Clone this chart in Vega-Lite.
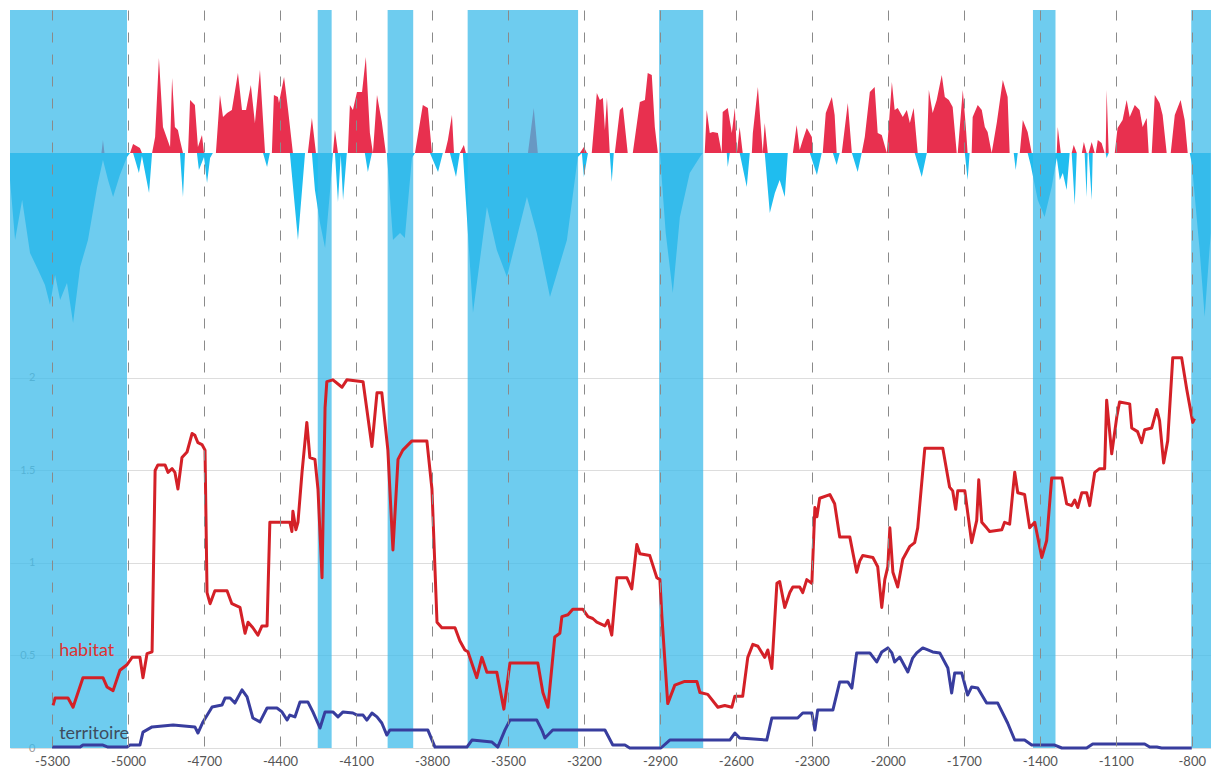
{
"$schema": "https://vega.github.io/schema/vega-lite/v6.json",
"width": 1201, "height": 738,
"autosize": {"type": "none"},
"padding": {"left": 10, "top": 10, "right": 0, "bottom": 32},
"background": "white",
"config": {"view": {"stroke": null}, "font": "Lato"},
"datasets": {
"bands": [{"a":-5466,"b":-5004},{"a":-4251,"b":-4196},{"a":-3975,"b":-3874},{"a":-3659,"b":-3223},{"a":-2903,"b":-2729},{"a":-1427,"b":-1338},{"a":-802,"b":-724}],
"labels": [{"label":"habitat","yr":-5272,"v":0.497},{"label":"territoire","yr":-5272,"v":0.047}],
"area": [
{"s":"pos","yr":-5466,"v":0},{"s":"pos","yr":-5105,"v":0},{"s":"pos","yr":-5099,"v":13},{"s":"pos","yr":-5093,"v":0},{"s":"pos","yr":-4992,"v":0},{"s":"pos","yr":-4980,"v":9},{"s":"pos","yr":-4953,"v":5},{"s":"pos","yr":-4945,"v":0},{"s":"pos","yr":-4905,"v":0},{"s":"pos","yr":-4893,"v":16},{"s":"pos","yr":-4878,"v":95},{"s":"pos","yr":-4862,"v":26},{"s":"pos","yr":-4834,"v":6},{"s":"pos","yr":-4826,"v":75},{"s":"pos","yr":-4815,"v":26},{"s":"pos","yr":-4803,"v":23},{"s":"pos","yr":-4795,"v":13},{"s":"pos","yr":-4783,"v":0},{"s":"pos","yr":-4763,"v":0},{"s":"pos","yr":-4755,"v":53},{"s":"pos","yr":-4736,"v":48},{"s":"pos","yr":-4724,"v":6},{"s":"pos","yr":-4708,"v":18},{"s":"pos","yr":-4700,"v":0},{"s":"pos","yr":-4653,"v":0},{"s":"pos","yr":-4637,"v":58},{"s":"pos","yr":-4625,"v":36},{"s":"pos","yr":-4609,"v":40},{"s":"pos","yr":-4590,"v":43},{"s":"pos","yr":-4566,"v":80},{"s":"pos","yr":-4550,"v":43},{"s":"pos","yr":-4534,"v":43},{"s":"pos","yr":-4515,"v":68},{"s":"pos","yr":-4499,"v":30},{"s":"pos","yr":-4479,"v":83},{"s":"pos","yr":-4459,"v":0},{"s":"pos","yr":-4432,"v":0},{"s":"pos","yr":-4424,"v":58},{"s":"pos","yr":-4408,"v":56},{"s":"pos","yr":-4404,"v":50},{"s":"pos","yr":-4384,"v":76},{"s":"pos","yr":-4368,"v":43},{"s":"pos","yr":-4349,"v":0},{"s":"pos","yr":-4290,"v":0},{"s":"pos","yr":-4274,"v":35},{"s":"pos","yr":-4258,"v":0},{"s":"pos","yr":-4191,"v":0},{"s":"pos","yr":-4183,"v":23},{"s":"pos","yr":-4171,"v":0},{"s":"pos","yr":-4132,"v":0},{"s":"pos","yr":-4124,"v":48},{"s":"pos","yr":-4112,"v":43},{"s":"pos","yr":-4096,"v":61},{"s":"pos","yr":-4076,"v":61},{"s":"pos","yr":-4061,"v":96},{"s":"pos","yr":-4045,"v":20},{"s":"pos","yr":-4033,"v":0},{"s":"pos","yr":-4017,"v":58},{"s":"pos","yr":-3998,"v":31},{"s":"pos","yr":-3982,"v":0},{"s":"pos","yr":-3867,"v":0},{"s":"pos","yr":-3836,"v":48},{"s":"pos","yr":-3816,"v":45},{"s":"pos","yr":-3800,"v":0},{"s":"pos","yr":-3749,"v":0},{"s":"pos","yr":-3737,"v":13},{"s":"pos","yr":-3721,"v":38},{"s":"pos","yr":-3713,"v":0},{"s":"pos","yr":-3690,"v":0},{"s":"pos","yr":-3674,"v":8},{"s":"pos","yr":-3666,"v":0},{"s":"pos","yr":-3421,"v":0},{"s":"pos","yr":-3398,"v":45},{"s":"pos","yr":-3382,"v":0},{"s":"pos","yr":-3216,"v":0},{"s":"pos","yr":-3200,"v":6},{"s":"pos","yr":-3188,"v":0},{"s":"pos","yr":-3169,"v":0},{"s":"pos","yr":-3149,"v":60},{"s":"pos","yr":-3137,"v":53},{"s":"pos","yr":-3125,"v":55},{"s":"pos","yr":-3117,"v":23},{"s":"pos","yr":-3109,"v":55},{"s":"pos","yr":-3098,"v":0},{"s":"pos","yr":-3078,"v":0},{"s":"pos","yr":-3058,"v":43},{"s":"pos","yr":-3046,"v":46},{"s":"pos","yr":-3027,"v":0},{"s":"pos","yr":-3007,"v":0},{"s":"pos","yr":-2979,"v":51},{"s":"pos","yr":-2959,"v":53},{"s":"pos","yr":-2948,"v":80},{"s":"pos","yr":-2932,"v":78},{"s":"pos","yr":-2920,"v":26},{"s":"pos","yr":-2908,"v":0},{"s":"pos","yr":-2723,"v":0},{"s":"pos","yr":-2715,"v":43},{"s":"pos","yr":-2703,"v":20},{"s":"pos","yr":-2691,"v":21},{"s":"pos","yr":-2671,"v":20},{"s":"pos","yr":-2656,"v":0},{"s":"pos","yr":-2652,"v":41},{"s":"pos","yr":-2632,"v":45},{"s":"pos","yr":-2616,"v":20},{"s":"pos","yr":-2604,"v":45},{"s":"pos","yr":-2596,"v":0},{"s":"pos","yr":-2585,"v":26},{"s":"pos","yr":-2573,"v":0},{"s":"pos","yr":-2537,"v":0},{"s":"pos","yr":-2533,"v":20},{"s":"pos","yr":-2513,"v":66},{"s":"pos","yr":-2494,"v":0},{"s":"pos","yr":-2486,"v":30},{"s":"pos","yr":-2474,"v":0},{"s":"pos","yr":-2375,"v":0},{"s":"pos","yr":-2360,"v":28},{"s":"pos","yr":-2348,"v":3},{"s":"pos","yr":-2336,"v":13},{"s":"pos","yr":-2320,"v":25},{"s":"pos","yr":-2300,"v":16},{"s":"pos","yr":-2296,"v":0},{"s":"pos","yr":-2257,"v":0},{"s":"pos","yr":-2245,"v":40},{"s":"pos","yr":-2221,"v":56},{"s":"pos","yr":-2210,"v":38},{"s":"pos","yr":-2202,"v":0},{"s":"pos","yr":-2182,"v":0},{"s":"pos","yr":-2158,"v":50},{"s":"pos","yr":-2142,"v":0},{"s":"pos","yr":-2103,"v":0},{"s":"pos","yr":-2091,"v":16},{"s":"pos","yr":-2071,"v":61},{"s":"pos","yr":-2052,"v":66},{"s":"pos","yr":-2040,"v":20},{"s":"pos","yr":-2024,"v":18},{"s":"pos","yr":-2004,"v":0},{"s":"pos","yr":-1984,"v":71},{"s":"pos","yr":-1973,"v":43},{"s":"pos","yr":-1961,"v":45},{"s":"pos","yr":-1941,"v":36},{"s":"pos","yr":-1925,"v":43},{"s":"pos","yr":-1913,"v":30},{"s":"pos","yr":-1898,"v":45},{"s":"pos","yr":-1882,"v":0},{"s":"pos","yr":-1846,"v":0},{"s":"pos","yr":-1838,"v":63},{"s":"pos","yr":-1823,"v":40},{"s":"pos","yr":-1807,"v":53},{"s":"pos","yr":-1787,"v":78},{"s":"pos","yr":-1775,"v":56},{"s":"pos","yr":-1759,"v":53},{"s":"pos","yr":-1744,"v":46},{"s":"pos","yr":-1728,"v":0},{"s":"pos","yr":-1724,"v":0},{"s":"pos","yr":-1704,"v":63},{"s":"pos","yr":-1692,"v":26},{"s":"pos","yr":-1685,"v":0},{"s":"pos","yr":-1669,"v":0},{"s":"pos","yr":-1665,"v":36},{"s":"pos","yr":-1645,"v":48},{"s":"pos","yr":-1629,"v":43},{"s":"pos","yr":-1617,"v":26},{"s":"pos","yr":-1606,"v":21},{"s":"pos","yr":-1590,"v":0},{"s":"pos","yr":-1570,"v":30},{"s":"pos","yr":-1546,"v":73},{"s":"pos","yr":-1527,"v":56},{"s":"pos","yr":-1519,"v":0},{"s":"pos","yr":-1479,"v":0},{"s":"pos","yr":-1467,"v":33},{"s":"pos","yr":-1448,"v":21},{"s":"pos","yr":-1432,"v":0},{"s":"pos","yr":-1333,"v":0},{"s":"pos","yr":-1329,"v":26},{"s":"pos","yr":-1317,"v":0},{"s":"pos","yr":-1274,"v":0},{"s":"pos","yr":-1266,"v":8},{"s":"pos","yr":-1254,"v":0},{"s":"pos","yr":-1234,"v":0},{"s":"pos","yr":-1226,"v":11},{"s":"pos","yr":-1215,"v":0},{"s":"pos","yr":-1207,"v":0},{"s":"pos","yr":-1195,"v":11},{"s":"pos","yr":-1183,"v":0},{"s":"pos","yr":-1179,"v":0},{"s":"pos","yr":-1171,"v":13},{"s":"pos","yr":-1156,"v":10},{"s":"pos","yr":-1144,"v":0},{"s":"pos","yr":-1140,"v":0},{"s":"pos","yr":-1136,"v":63},{"s":"pos","yr":-1128,"v":0},{"s":"pos","yr":-1104,"v":0},{"s":"pos","yr":-1093,"v":25},{"s":"pos","yr":-1073,"v":33},{"s":"pos","yr":-1057,"v":53},{"s":"pos","yr":-1045,"v":36},{"s":"pos","yr":-1025,"v":48},{"s":"pos","yr":-1006,"v":43},{"s":"pos","yr":-994,"v":26},{"s":"pos","yr":-978,"v":35},{"s":"pos","yr":-970,"v":0},{"s":"pos","yr":-958,"v":0},{"s":"pos","yr":-946,"v":58},{"s":"pos","yr":-927,"v":50},{"s":"pos","yr":-915,"v":38},{"s":"pos","yr":-899,"v":0},{"s":"pos","yr":-883,"v":0},{"s":"pos","yr":-867,"v":38},{"s":"pos","yr":-844,"v":53},{"s":"pos","yr":-828,"v":33},{"s":"pos","yr":-816,"v":0},{"s":"pos","yr":-725,"v":0},
{"s":"neg","yr":-5466,"v":-27},{"s":"neg","yr":-5446,"v":-87},{"s":"neg","yr":-5418,"v":-47},{"s":"neg","yr":-5387,"v":-100},{"s":"neg","yr":-5355,"v":-117},{"s":"neg","yr":-5328,"v":-132},{"s":"neg","yr":-5308,"v":-152},{"s":"neg","yr":-5288,"v":-122},{"s":"neg","yr":-5268,"v":-147},{"s":"neg","yr":-5241,"v":-130},{"s":"neg","yr":-5217,"v":-170},{"s":"neg","yr":-5189,"v":-114},{"s":"neg","yr":-5158,"v":-87},{"s":"neg","yr":-5122,"v":-34},{"s":"neg","yr":-5099,"v":-7},{"s":"neg","yr":-5079,"v":-27},{"s":"neg","yr":-5059,"v":-44},{"s":"neg","yr":-5032,"v":-22},{"s":"neg","yr":-5004,"v":-4},{"s":"neg","yr":-4992,"v":0},{"s":"neg","yr":-4980,"v":0},{"s":"neg","yr":-4957,"v":-20},{"s":"neg","yr":-4945,"v":-3},{"s":"neg","yr":-4917,"v":-40},{"s":"neg","yr":-4905,"v":0},{"s":"neg","yr":-4795,"v":0},{"s":"neg","yr":-4783,"v":-44},{"s":"neg","yr":-4775,"v":0},{"s":"neg","yr":-4728,"v":0},{"s":"neg","yr":-4720,"v":-17},{"s":"neg","yr":-4700,"v":-4},{"s":"neg","yr":-4688,"v":-30},{"s":"neg","yr":-4676,"v":-5},{"s":"neg","yr":-4665,"v":0},{"s":"neg","yr":-4467,"v":0},{"s":"neg","yr":-4451,"v":-14},{"s":"neg","yr":-4440,"v":0},{"s":"neg","yr":-4361,"v":0},{"s":"neg","yr":-4329,"v":-87},{"s":"neg","yr":-4301,"v":0},{"s":"neg","yr":-4274,"v":0},{"s":"neg","yr":-4262,"v":-37},{"s":"neg","yr":-4242,"v":-70},{"s":"neg","yr":-4222,"v":-95},{"s":"neg","yr":-4203,"v":-40},{"s":"neg","yr":-4191,"v":0},{"s":"neg","yr":-4183,"v":0},{"s":"neg","yr":-4171,"v":-49},{"s":"neg","yr":-4160,"v":-2},{"s":"neg","yr":-4151,"v":-47},{"s":"neg","yr":-4136,"v":0},{"s":"neg","yr":-4065,"v":0},{"s":"neg","yr":-4053,"v":-19},{"s":"neg","yr":-4037,"v":0},{"s":"neg","yr":-3978,"v":0},{"s":"neg","yr":-3954,"v":-87},{"s":"neg","yr":-3926,"v":-80},{"s":"neg","yr":-3907,"v":-85},{"s":"neg","yr":-3879,"v":-5},{"s":"neg","yr":-3867,"v":0},{"s":"neg","yr":-3808,"v":0},{"s":"neg","yr":-3776,"v":-19},{"s":"neg","yr":-3757,"v":0},{"s":"neg","yr":-3729,"v":0},{"s":"neg","yr":-3705,"v":-24},{"s":"neg","yr":-3690,"v":0},{"s":"neg","yr":-3678,"v":0},{"s":"neg","yr":-3638,"v":-160},{"s":"neg","yr":-3583,"v":-54},{"s":"neg","yr":-3544,"v":-97},{"s":"neg","yr":-3504,"v":-124},{"s":"neg","yr":-3425,"v":-44},{"s":"neg","yr":-3386,"v":-80},{"s":"neg","yr":-3334,"v":-144},{"s":"neg","yr":-3267,"v":-87},{"s":"neg","yr":-3224,"v":-4},{"s":"neg","yr":-3208,"v":0},{"s":"neg","yr":-3200,"v":-24},{"s":"neg","yr":-3184,"v":0},{"s":"neg","yr":-3098,"v":0},{"s":"neg","yr":-3090,"v":-29},{"s":"neg","yr":-3082,"v":0},{"s":"neg","yr":-2900,"v":0},{"s":"neg","yr":-2877,"v":-80},{"s":"neg","yr":-2849,"v":-140},{"s":"neg","yr":-2821,"v":-64},{"s":"neg","yr":-2782,"v":-20},{"s":"neg","yr":-2742,"v":-4},{"s":"neg","yr":-2730,"v":0},{"s":"neg","yr":-2636,"v":0},{"s":"neg","yr":-2632,"v":-14},{"s":"neg","yr":-2624,"v":0},{"s":"neg","yr":-2585,"v":0},{"s":"neg","yr":-2557,"v":-34},{"s":"neg","yr":-2545,"v":0},{"s":"neg","yr":-2486,"v":0},{"s":"neg","yr":-2466,"v":-60},{"s":"neg","yr":-2446,"v":-40},{"s":"neg","yr":-2427,"v":-27},{"s":"neg","yr":-2407,"v":-44},{"s":"neg","yr":-2395,"v":0},{"s":"neg","yr":-2308,"v":0},{"s":"neg","yr":-2280,"v":-22},{"s":"neg","yr":-2261,"v":0},{"s":"neg","yr":-2217,"v":0},{"s":"neg","yr":-2202,"v":-12},{"s":"neg","yr":-2190,"v":0},{"s":"neg","yr":-2142,"v":0},{"s":"neg","yr":-2119,"v":-19},{"s":"neg","yr":-2103,"v":0},{"s":"neg","yr":-1894,"v":0},{"s":"neg","yr":-1866,"v":-24},{"s":"neg","yr":-1846,"v":0},{"s":"neg","yr":-1696,"v":0},{"s":"neg","yr":-1685,"v":-27},{"s":"neg","yr":-1677,"v":0},{"s":"neg","yr":-1503,"v":0},{"s":"neg","yr":-1495,"v":-17},{"s":"neg","yr":-1487,"v":0},{"s":"neg","yr":-1448,"v":0},{"s":"neg","yr":-1436,"v":-12},{"s":"neg","yr":-1408,"v":-47},{"s":"neg","yr":-1381,"v":-64},{"s":"neg","yr":-1353,"v":-34},{"s":"neg","yr":-1333,"v":-5},{"s":"neg","yr":-1321,"v":-27},{"s":"neg","yr":-1309,"v":-20},{"s":"neg","yr":-1294,"v":-37},{"s":"neg","yr":-1282,"v":0},{"s":"neg","yr":-1274,"v":0},{"s":"neg","yr":-1262,"v":-52},{"s":"neg","yr":-1254,"v":0},{"s":"neg","yr":-1223,"v":0},{"s":"neg","yr":-1215,"v":-44},{"s":"neg","yr":-1211,"v":0},{"s":"neg","yr":-1207,"v":0},{"s":"neg","yr":-1195,"v":-47},{"s":"neg","yr":-1191,"v":0},{"s":"neg","yr":-1140,"v":0},{"s":"neg","yr":-1136,"v":-5},{"s":"neg","yr":-1128,"v":0},{"s":"neg","yr":-808,"v":0},{"s":"neg","yr":-800,"v":-10},{"s":"neg","yr":-769,"v":-97},{"s":"neg","yr":-749,"v":-164},{"s":"neg","yr":-725,"v":-80}
],
"lines": [
{"s":"habitat","yr":-5296,"v":0.23},{"s":"habitat","yr":-5288,"v":0.27},{"s":"habitat","yr":-5237,"v":0.27},{"s":"habitat","yr":-5217,"v":0.22},{"s":"habitat","yr":-5178,"v":0.38},{"s":"habitat","yr":-5099,"v":0.38},{"s":"habitat","yr":-5083,"v":0.33},{"s":"habitat","yr":-5059,"v":0.31},{"s":"habitat","yr":-5032,"v":0.42},{"s":"habitat","yr":-5004,"v":0.45},{"s":"habitat","yr":-4984,"v":0.49},{"s":"habitat","yr":-4953,"v":0.49},{"s":"habitat","yr":-4941,"v":0.38},{"s":"habitat","yr":-4925,"v":0.51},{"s":"habitat","yr":-4905,"v":0.52},{"s":"habitat","yr":-4893,"v":1.5},{"s":"habitat","yr":-4882,"v":1.53},{"s":"habitat","yr":-4854,"v":1.53},{"s":"habitat","yr":-4842,"v":1.49},{"s":"habitat","yr":-4826,"v":1.51},{"s":"habitat","yr":-4815,"v":1.49},{"s":"habitat","yr":-4803,"v":1.4},{"s":"habitat","yr":-4787,"v":1.57},{"s":"habitat","yr":-4767,"v":1.6},{"s":"habitat","yr":-4747,"v":1.7},{"s":"habitat","yr":-4736,"v":1.69},{"s":"habitat","yr":-4724,"v":1.65},{"s":"habitat","yr":-4708,"v":1.64},{"s":"habitat","yr":-4696,"v":1.61},{"s":"habitat","yr":-4688,"v":0.84},{"s":"habitat","yr":-4676,"v":0.78},{"s":"habitat","yr":-4657,"v":0.85},{"s":"habitat","yr":-4609,"v":0.85},{"s":"habitat","yr":-4590,"v":0.78},{"s":"habitat","yr":-4558,"v":0.76},{"s":"habitat","yr":-4538,"v":0.62},{"s":"habitat","yr":-4526,"v":0.68},{"s":"habitat","yr":-4507,"v":0.65},{"s":"habitat","yr":-4487,"v":0.61},{"s":"habitat","yr":-4471,"v":0.66},{"s":"habitat","yr":-4451,"v":0.66},{"s":"habitat","yr":-4440,"v":1.22},{"s":"habitat","yr":-4428,"v":1.22},{"s":"habitat","yr":-4361,"v":1.22},{"s":"habitat","yr":-4353,"v":1.17},{"s":"habitat","yr":-4349,"v":1.28},{"s":"habitat","yr":-4337,"v":1.18},{"s":"habitat","yr":-4329,"v":1.22},{"s":"habitat","yr":-4313,"v":1.49},{"s":"habitat","yr":-4294,"v":1.76},{"s":"habitat","yr":-4282,"v":1.57},{"s":"habitat","yr":-4262,"v":1.56},{"s":"habitat","yr":-4250,"v":1.4},{"s":"habitat","yr":-4234,"v":0.92},{"s":"habitat","yr":-4222,"v":1.84},{"s":"habitat","yr":-4215,"v":1.98},{"s":"habitat","yr":-4191,"v":1.99},{"s":"habitat","yr":-4155,"v":1.95},{"s":"habitat","yr":-4136,"v":1.99},{"s":"habitat","yr":-4072,"v":1.98},{"s":"habitat","yr":-4037,"v":1.63},{"s":"habitat","yr":-4017,"v":1.92},{"s":"habitat","yr":-3998,"v":1.92},{"s":"habitat","yr":-3974,"v":1.61},{"s":"habitat","yr":-3954,"v":1.07},{"s":"habitat","yr":-3934,"v":1.56},{"s":"habitat","yr":-3915,"v":1.61},{"s":"habitat","yr":-3879,"v":1.66},{"s":"habitat","yr":-3820,"v":1.66},{"s":"habitat","yr":-3800,"v":1.4},{"s":"habitat","yr":-3780,"v":0.68},{"s":"habitat","yr":-3761,"v":0.65},{"s":"habitat","yr":-3709,"v":0.65},{"s":"habitat","yr":-3690,"v":0.58},{"s":"habitat","yr":-3670,"v":0.53},{"s":"habitat","yr":-3658,"v":0.52},{"s":"habitat","yr":-3623,"v":0.38},{"s":"habitat","yr":-3603,"v":0.49},{"s":"habitat","yr":-3583,"v":0.41},{"s":"habitat","yr":-3544,"v":0.41},{"s":"habitat","yr":-3516,"v":0.21},{"s":"habitat","yr":-3492,"v":0.46},{"s":"habitat","yr":-3382,"v":0.46},{"s":"habitat","yr":-3362,"v":0.3},{"s":"habitat","yr":-3342,"v":0.22},{"s":"habitat","yr":-3315,"v":0.6},{"s":"habitat","yr":-3295,"v":0.62},{"s":"habitat","yr":-3287,"v":0.71},{"s":"habitat","yr":-3263,"v":0.72},{"s":"habitat","yr":-3244,"v":0.75},{"s":"habitat","yr":-3204,"v":0.75},{"s":"habitat","yr":-3184,"v":0.71},{"s":"habitat","yr":-3165,"v":0.7},{"s":"habitat","yr":-3149,"v":0.68},{"s":"habitat","yr":-3117,"v":0.66},{"s":"habitat","yr":-3105,"v":0.69},{"s":"habitat","yr":-3090,"v":0.61},{"s":"habitat","yr":-3070,"v":0.92},{"s":"habitat","yr":-3030,"v":0.92},{"s":"habitat","yr":-3011,"v":0.86},{"s":"habitat","yr":-2991,"v":1.1},{"s":"habitat","yr":-2979,"v":1.05},{"s":"habitat","yr":-2940,"v":1.04},{"s":"habitat","yr":-2912,"v":0.92},{"s":"habitat","yr":-2900,"v":0.91},{"s":"habitat","yr":-2892,"v":0.71},{"s":"habitat","yr":-2869,"v":0.24},{"s":"habitat","yr":-2841,"v":0.34},{"s":"habitat","yr":-2802,"v":0.36},{"s":"habitat","yr":-2754,"v":0.36},{"s":"habitat","yr":-2742,"v":0.3},{"s":"habitat","yr":-2711,"v":0.29},{"s":"habitat","yr":-2671,"v":0.22},{"s":"habitat","yr":-2644,"v":0.23},{"s":"habitat","yr":-2616,"v":0.22},{"s":"habitat","yr":-2604,"v":0.28},{"s":"habitat","yr":-2573,"v":0.28},{"s":"habitat","yr":-2553,"v":0.49},{"s":"habitat","yr":-2533,"v":0.56},{"s":"habitat","yr":-2513,"v":0.55},{"s":"habitat","yr":-2486,"v":0.49},{"s":"habitat","yr":-2474,"v":0.53},{"s":"habitat","yr":-2458,"v":0.43},{"s":"habitat","yr":-2438,"v":0.89},{"s":"habitat","yr":-2427,"v":0.9},{"s":"habitat","yr":-2407,"v":0.76},{"s":"habitat","yr":-2387,"v":0.84},{"s":"habitat","yr":-2375,"v":0.87},{"s":"habitat","yr":-2348,"v":0.87},{"s":"habitat","yr":-2336,"v":0.84},{"s":"habitat","yr":-2320,"v":0.91},{"s":"habitat","yr":-2300,"v":0.89},{"s":"habitat","yr":-2288,"v":1.3},{"s":"habitat","yr":-2280,"v":1.25},{"s":"habitat","yr":-2269,"v":1.35},{"s":"habitat","yr":-2229,"v":1.37},{"s":"habitat","yr":-2210,"v":1.32},{"s":"habitat","yr":-2190,"v":1.14},{"s":"habitat","yr":-2150,"v":1.14},{"s":"habitat","yr":-2123,"v":0.95},{"s":"habitat","yr":-2111,"v":1.01},{"s":"habitat","yr":-2099,"v":1.04},{"s":"habitat","yr":-2059,"v":1.03},{"s":"habitat","yr":-2040,"v":0.98},{"s":"habitat","yr":-2024,"v":0.76},{"s":"habitat","yr":-2012,"v":0.91},{"s":"habitat","yr":-2000,"v":0.98},{"s":"habitat","yr":-1992,"v":1.19},{"s":"habitat","yr":-1980,"v":0.95},{"s":"habitat","yr":-1961,"v":0.87},{"s":"habitat","yr":-1941,"v":1.02},{"s":"habitat","yr":-1913,"v":1.09},{"s":"habitat","yr":-1894,"v":1.11},{"s":"habitat","yr":-1882,"v":1.19},{"s":"habitat","yr":-1854,"v":1.62},{"s":"habitat","yr":-1783,"v":1.62},{"s":"habitat","yr":-1756,"v":1.41},{"s":"habitat","yr":-1744,"v":1.39},{"s":"habitat","yr":-1732,"v":1.29},{"s":"habitat","yr":-1724,"v":1.39},{"s":"habitat","yr":-1696,"v":1.39},{"s":"habitat","yr":-1669,"v":1.11},{"s":"habitat","yr":-1649,"v":1.23},{"s":"habitat","yr":-1641,"v":1.45},{"s":"habitat","yr":-1629,"v":1.22},{"s":"habitat","yr":-1610,"v":1.19},{"s":"habitat","yr":-1598,"v":1.17},{"s":"habitat","yr":-1550,"v":1.18},{"s":"habitat","yr":-1539,"v":1.22},{"s":"habitat","yr":-1519,"v":1.21},{"s":"habitat","yr":-1499,"v":1.49},{"s":"habitat","yr":-1487,"v":1.38},{"s":"habitat","yr":-1460,"v":1.37},{"s":"habitat","yr":-1440,"v":1.19},{"s":"habitat","yr":-1420,"v":1.22},{"s":"habitat","yr":-1392,"v":1.03},{"s":"habitat","yr":-1373,"v":1.12},{"s":"habitat","yr":-1353,"v":1.46},{"s":"habitat","yr":-1313,"v":1.46},{"s":"habitat","yr":-1294,"v":1.32},{"s":"habitat","yr":-1274,"v":1.31},{"s":"habitat","yr":-1262,"v":1.34},{"s":"habitat","yr":-1250,"v":1.3},{"s":"habitat","yr":-1234,"v":1.38},{"s":"habitat","yr":-1215,"v":1.38},{"s":"habitat","yr":-1203,"v":1.31},{"s":"habitat","yr":-1183,"v":1.49},{"s":"habitat","yr":-1164,"v":1.51},{"s":"habitat","yr":-1144,"v":1.51},{"s":"habitat","yr":-1136,"v":1.88},{"s":"habitat","yr":-1116,"v":1.59},{"s":"habitat","yr":-1096,"v":1.79},{"s":"habitat","yr":-1085,"v":1.87},{"s":"habitat","yr":-1045,"v":1.86},{"s":"habitat","yr":-1037,"v":1.73},{"s":"habitat","yr":-1014,"v":1.71},{"s":"habitat","yr":-998,"v":1.65},{"s":"habitat","yr":-986,"v":1.72},{"s":"habitat","yr":-958,"v":1.73},{"s":"habitat","yr":-938,"v":1.83},{"s":"habitat","yr":-927,"v":1.77},{"s":"habitat","yr":-911,"v":1.54},{"s":"habitat","yr":-895,"v":1.66},{"s":"habitat","yr":-875,"v":2.11},{"s":"habitat","yr":-840,"v":2.11},{"s":"habitat","yr":-820,"v":1.94},{"s":"habitat","yr":-796,"v":1.76},{"s":"habitat","yr":-789,"v":1.78},
{"s":"territoire","yr":-5300,"v":0.005},{"s":"territoire","yr":-5189,"v":0.005},{"s":"territoire","yr":-5178,"v":0.016},{"s":"territoire","yr":-5099,"v":0.016},{"s":"territoire","yr":-5079,"v":0.005},{"s":"territoire","yr":-5004,"v":0.005},{"s":"territoire","yr":-4992,"v":0.016},{"s":"territoire","yr":-4953,"v":0.016},{"s":"territoire","yr":-4941,"v":0.086},{"s":"territoire","yr":-4905,"v":0.114},{"s":"territoire","yr":-4822,"v":0.124},{"s":"territoire","yr":-4736,"v":0.114},{"s":"territoire","yr":-4724,"v":0.081},{"s":"territoire","yr":-4704,"v":0.141},{"s":"territoire","yr":-4668,"v":0.222},{"s":"territoire","yr":-4629,"v":0.232},{"s":"territoire","yr":-4617,"v":0.27},{"s":"territoire","yr":-4597,"v":0.27},{"s":"territoire","yr":-4578,"v":0.243},{"s":"territoire","yr":-4550,"v":0.314},{"s":"territoire","yr":-4530,"v":0.276},{"s":"territoire","yr":-4507,"v":0.162},{"s":"territoire","yr":-4479,"v":0.141},{"s":"territoire","yr":-4451,"v":0.216},{"s":"territoire","yr":-4412,"v":0.216},{"s":"territoire","yr":-4392,"v":0.195},{"s":"territoire","yr":-4372,"v":0.151},{"s":"territoire","yr":-4361,"v":0.178},{"s":"territoire","yr":-4341,"v":0.168},{"s":"territoire","yr":-4321,"v":0.249},{"s":"territoire","yr":-4290,"v":0.249},{"s":"territoire","yr":-4270,"v":0.195},{"s":"territoire","yr":-4242,"v":0.108},{"s":"territoire","yr":-4222,"v":0.195},{"s":"territoire","yr":-4191,"v":0.195},{"s":"territoire","yr":-4171,"v":0.168},{"s":"territoire","yr":-4151,"v":0.195},{"s":"territoire","yr":-4112,"v":0.189},{"s":"territoire","yr":-4096,"v":0.178},{"s":"territoire","yr":-4072,"v":0.178},{"s":"territoire","yr":-4057,"v":0.151},{"s":"territoire","yr":-4037,"v":0.189},{"s":"territoire","yr":-4017,"v":0.168},{"s":"territoire","yr":-3998,"v":0.135},{"s":"territoire","yr":-3978,"v":0.07},{"s":"territoire","yr":-3966,"v":0.097},{"s":"territoire","yr":-3816,"v":0.097},{"s":"territoire","yr":-3788,"v":0.005},{"s":"territoire","yr":-3662,"v":0.005},{"s":"territoire","yr":-3642,"v":0.043},{"s":"territoire","yr":-3563,"v":0.032},{"s":"territoire","yr":-3540,"v":0.005},{"s":"territoire","yr":-3512,"v":0.097},{"s":"territoire","yr":-3492,"v":0.151},{"s":"territoire","yr":-3386,"v":0.151},{"s":"territoire","yr":-3366,"v":0.097},{"s":"territoire","yr":-3354,"v":0.054},{"s":"territoire","yr":-3323,"v":0.097},{"s":"territoire","yr":-3117,"v":0.097},{"s":"territoire","yr":-3086,"v":0.016},{"s":"territoire","yr":-3038,"v":0.016},{"s":"territoire","yr":-3019,"v":0},{"s":"territoire","yr":-2896,"v":0},{"s":"territoire","yr":-2861,"v":0.043},{"s":"territoire","yr":-2624,"v":0.043},{"s":"territoire","yr":-2604,"v":0.081},{"s":"territoire","yr":-2585,"v":0.054},{"s":"territoire","yr":-2478,"v":0.043},{"s":"territoire","yr":-2458,"v":0.162},{"s":"territoire","yr":-2356,"v":0.162},{"s":"territoire","yr":-2336,"v":0.189},{"s":"territoire","yr":-2300,"v":0.189},{"s":"territoire","yr":-2288,"v":0.097},{"s":"territoire","yr":-2277,"v":0.205},{"s":"territoire","yr":-2217,"v":0.205},{"s":"territoire","yr":-2190,"v":0.357},{"s":"territoire","yr":-2158,"v":0.357},{"s":"territoire","yr":-2142,"v":0.324},{"s":"territoire","yr":-2123,"v":0.514},{"s":"territoire","yr":-2071,"v":0.514},{"s":"territoire","yr":-2044,"v":0.465},{"s":"territoire","yr":-2024,"v":0.519},{"s":"territoire","yr":-2000,"v":0.541},{"s":"territoire","yr":-1984,"v":0.514},{"s":"territoire","yr":-1973,"v":0.465},{"s":"territoire","yr":-1953,"v":0.492},{"s":"territoire","yr":-1921,"v":0.411},{"s":"territoire","yr":-1902,"v":0.486},{"s":"territoire","yr":-1886,"v":0.514},{"s":"territoire","yr":-1862,"v":0.541},{"s":"territoire","yr":-1842,"v":0.53},{"s":"territoire","yr":-1823,"v":0.519},{"s":"territoire","yr":-1795,"v":0.514},{"s":"territoire","yr":-1763,"v":0.432},{"s":"territoire","yr":-1748,"v":0.297},{"s":"territoire","yr":-1736,"v":0.405},{"s":"territoire","yr":-1708,"v":0.405},{"s":"territoire","yr":-1685,"v":0.286},{"s":"territoire","yr":-1669,"v":0.33},{"s":"territoire","yr":-1645,"v":0.324},{"s":"territoire","yr":-1610,"v":0.243},{"s":"territoire","yr":-1566,"v":0.243},{"s":"territoire","yr":-1527,"v":0.135},{"s":"territoire","yr":-1499,"v":0.043},{"s":"territoire","yr":-1460,"v":0.043},{"s":"territoire","yr":-1432,"v":0.016},{"s":"territoire","yr":-1341,"v":0.016},{"s":"territoire","yr":-1313,"v":0},{"s":"territoire","yr":-1215,"v":0},{"s":"territoire","yr":-1191,"v":0.022},{"s":"territoire","yr":-986,"v":0.022},{"s":"territoire","yr":-966,"v":0.005},{"s":"territoire","yr":-938,"v":0.005},{"s":"territoire","yr":-919,"v":0},{"s":"territoire","yr":-800,"v":0}
]
},
"layer": [
{
"data": {"name": "area"},
"mark": {"type": "area", "interpolate": "linear"},
"encoding": {
"x": {"field": "yr", "type": "quantitative", "scale": {"domain": [-5466, -724], "nice": false, "zero": false},
"axis": {"values": [-5300,-5000,-4700,-4400,-4100,-3800,-3500,-3200,-2900,-2600,-2300,-2000,-1700,-1400,-1100,-800], "labelExpr": "'' + datum.value", "grid": true, "gridDash": [10, 12], "gridColor": "#8a8a8a", "gridWidth": 1, "domain": false, "ticks": false, "labelPadding": 7, "labelFontSize": 13, "labelColor": "#555555", "labelFont": "Lato", "title": null, "zindex": 1}},
"y": {"field": "v", "type": "quantitative", "scale": {"domain": [-595, 143], "nice": false, "zero": false}, "axis": null, "stack": null},
"y2": {"datum": 0},
"color": {"field": "s", "type": "nominal", "scale": {"domain": ["pos", "neg"], "range": ["#e8304f", "#1fbdef"]}, "legend": null}
}
},
{
"data": {"name": "bands"},
"mark": {"type": "rect", "color": "#3dbbe9", "opacity": 0.75},
"encoding": {
"x": {"field": "a", "type": "quantitative"},
"x2": {"field": "b"}
}
},
{
"data": {"name": "lines"},
"mark": {"type": "line", "strokeWidth": 3, "strokeJoin": "round"},
"encoding": {
"x": {"field": "yr", "type": "quantitative"},
"y": {"field": "v", "type": "quantitative", "scale": {"domain": [0, 3.989], "nice": false, "zero": false},
"axis": {"values": [0, 0.5, 1, 1.5, 2], "labelExpr": "'' + datum.value", "grid": true, "gridColor": "#dddddd", "domain": false, "ticks": false, "offset": -30, "labelPadding": 5, "labelFontSize": 11, "labelColor": "#9a9a9a", "labelFont": "Lato", "title": null}},
"color": {"field": "s", "type": "nominal", "scale": {"domain": ["habitat", "territoire"], "range": ["#d42027", "#383d9e"]}, "legend": null}
}
},
{
"data": {"name": "labels"},
"mark": {"type": "text", "align": "left", "baseline": "alphabetic", "fontSize": 18, "font": "Lato"},
"encoding": {
"x": {"field": "yr", "type": "quantitative"},
"y": {"field": "v", "type": "quantitative", "scale": {"domain": [0, 3.989], "nice": false, "zero": false}, "axis": null},
"text": {"field": "label"},
"color": {"field": "label", "type": "nominal", "scale": {"domain": ["habitat", "territoire"], "range": ["#de3131", "#3e4c5e"]}, "legend": null}
}
}
],
"resolve": {"scale": {"y": "independent", "color": "independent"}}
}
